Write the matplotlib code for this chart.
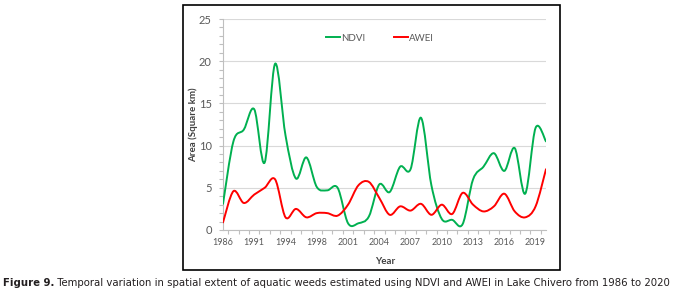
import matplotlib
matplotlib.use("Agg")
import matplotlib.pyplot as plt
from matplotlib.path import Path
from matplotlib.patches import PathPatch, Rectangle
from matplotlib.lines import Line2D
from matplotlib.ticker import MultipleLocator, FixedLocator

# ---- data -------------------------------------------------------------
years = ["1986", "1988", "1990", "1991", "1992", "1993", "1994", "1995", "1996",
         "1998", "1999", "2000", "2001", "2002", "2003", "2004", "2005", "2006",
         "2007", "2008", "2009", "2010", "2011", "2012", "2013", "2014", "2015",
         "2016", "2017", "2018", "2019", "2020"]
ndvi = [3.1, 10.5, 11.9, 14.3, 8.0, 19.7, 11.2, 6.1, 8.6, 5.1, 4.7, 5.0,
        0.8, 0.8, 1.6, 5.4, 4.5, 7.5, 7.2, 13.3, 5.3, 1.3, 1.2, 0.7,
        6.0, 7.5, 9.1, 7.0, 9.7, 4.3, 12.1, 10.5]
awei = [0.9, 4.6, 3.2, 4.2, 5.0, 6.0, 1.5, 2.5, 1.5, 2.0, 2.0, 1.7,
        3.0, 5.3, 5.7, 3.8, 1.8, 2.8, 2.3, 3.1, 1.8, 3.0, 1.9, 4.4,
        3.0, 2.2, 2.8, 4.3, 2.2, 1.5, 2.8, 7.2]
labeled_years = ["1986", "1991", "1994", "1998", "2001", "2004", "2007",
                 "2010", "2013", "2016", "2019"]
series_names = ["NDVI", "AWEI"]
series_colors = ["#00b050", "#ff0000"]

W, H = 676, 294
fig = plt.figure(figsize=(W / 100, H / 100), dpi=100)


def fx(px):
    return px / W


def fy(py):
    return 1 - py / H


left, right, top, bottom = 223, 546, 19, 230
ax = fig.add_axes([fx(left), fy(bottom), fx(right - left), (bottom - top) / H])


def smooth_path(xs, ys):
    verts = [(xs[0], ys[0])]
    codes = [Path.MOVETO]
    n = len(xs)
    for i in range(n - 1):
        p0 = (xs[max(i - 1, 0)], ys[max(i - 1, 0)])
        p1 = (xs[i], ys[i])
        p2 = (xs[i + 1], ys[i + 1])
        p3 = (xs[min(i + 2, n - 1)], ys[min(i + 2, n - 1)])
        c1 = (p1[0] + (p2[0] - p0[0]) / 6, p1[1] + (p2[1] - p0[1]) / 6)
        c2 = (p2[0] - (p3[0] - p1[0]) / 6, p2[1] - (p3[1] - p1[1]) / 6)
        verts += [c1, c2, p2]
        codes += [Path.CURVE4] * 3
    return Path(verts, codes)


xs = list(range(len(years)))
for vals, col in zip([ndvi, awei], series_colors):
    patch = PathPatch(smooth_path(xs, vals), facecolor="none", edgecolor=col,
                      lw=1.4, capstyle="round", joinstyle="round", zorder=3)
    ax.add_patch(patch)

ax.set_xlim(0, len(years) - 1)
ax.set_ylim(0, 25)

# grid / spines
ax.yaxis.set_major_locator(MultipleLocator(5))
ax.yaxis.set_minor_locator(MultipleLocator(1))
ax.grid(axis="y", which="major", color="#d9d9d9", lw=0.8, zorder=0)
for s in ["top", "right"]:
    ax.spines[s].set_visible(False)
for s in ["left", "bottom"]:
    ax.spines[s].set_color("#bfbfbf")
    ax.spines[s].set_linewidth(0.8)

tick_pos = [years.index(y) for y in labeled_years]
ax.set_xticks(tick_pos)
ax.set_xticklabels(labeled_years)
ax.xaxis.set_minor_locator(FixedLocator([i + 0.5 for i in range(len(years) - 1)]))
ax.tick_params(axis="x", which="major", length=0, pad=6, labelsize=6.5,
               labelcolor="#595959")
ax.tick_params(axis="x", which="minor", length=3, color="#bfbfbf", width=0.8)
ax.tick_params(axis="y", which="major", length=3, color="#bfbfbf", width=0.8,
               pad=5, labelsize=8, labelcolor="#595959")
ax.tick_params(axis="y", which="minor", length=3, color="#bfbfbf", width=0.8)
for lab in ax.get_xticklabels() + ax.get_yticklabels():
    lab.set_family(["Lato", "DejaVu Sans"])

fig.text(fx(193), fy((top + bottom) / 2), "Area (Square km)", fontsize=7,
         fontweight="bold", color="#404040", rotation=90, ha="center", va="center",
         family=["Lato", "DejaVu Sans"])
fig.text(fx(385), fy(262), "Year", fontsize=7, fontweight="bold", color="#404040",
         ha="center", va="center", family=["Lato", "DejaVu Sans"])

handles = [Line2D([], [], color=c, lw=1.4) for c in series_colors]
leg = ax.legend(handles, series_names, loc="center", ncol=2, frameon=False,
                bbox_to_anchor=((380 - left) / (right - left), (bottom - 38) / (bottom - top)),
                handlelength=1.4, handletextpad=0.1, columnspacing=3.0,
                prop={"family": ["Lato", "DejaVu Sans"], "size": 7})
for t in leg.get_texts():
    t.set_color("#595959")

# chart border
fig.add_artist(Rectangle((fx(183), fy(270)), fx(560 - 183), (270 - 5) / H,
                         transform=fig.transFigure, fill=False, ec="black", lw=1.2))

# caption
cap_family = ["DejaVu Sans"]
r = fig.canvas.get_renderer()
t1 = fig.text(fx(3), fy(283), "Figure 9.", fontsize=8, fontweight="bold",
              fontstretch="condensed", va="center", ha="left", family=cap_family,
              color="#231f20")
rest = " Temporal variation in spatial extent of aquatic weeds estimated using NDVI and AWEI in Lake Chivero from 1986 to 2020"
t2 = fig.text(fx(60), fy(283), rest, fontsize=8, fontstretch="condensed",
              va="center", ha="left", family=cap_family, color="#231f20")
fs = 8.0
target = 669
for _ in range(6):
    t1.set_fontsize(fs)
    t2.set_fontsize(fs)
    b1 = t1.get_window_extent(r)
    t2.set_x(b1.x1 / W)
    b2 = t2.get_window_extent(r)
    width = b2.x1 - b1.x0
    fs = fs * target / width

fig.savefig("out.png", dpi=100)
